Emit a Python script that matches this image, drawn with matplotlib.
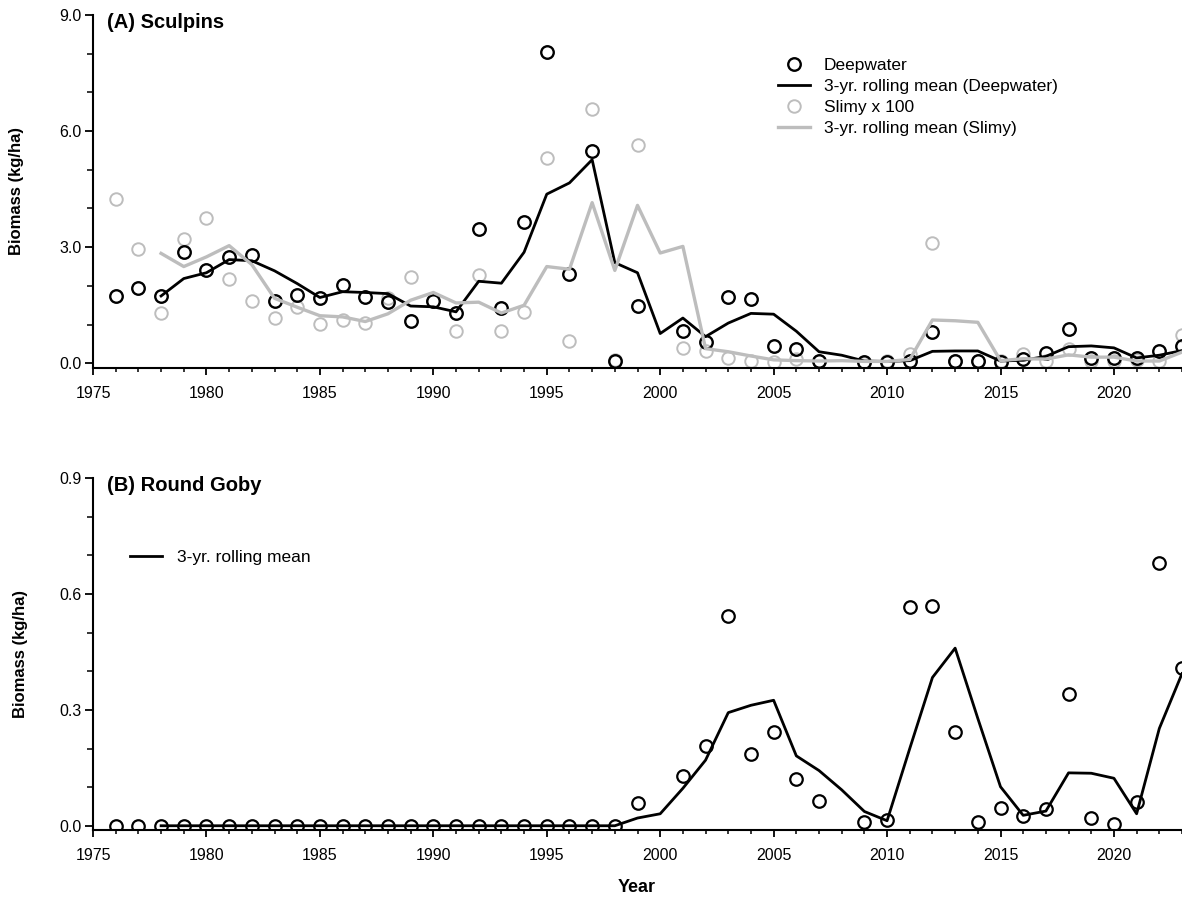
import numpy as np
import matplotlib
matplotlib.use("Agg")
import matplotlib.pyplot as plt
from matplotlib.ticker import MultipleLocator, FormatStrFormatter

plt.rcParams['font.family'] = ['Liberation Sans', 'DejaVu Sans']

nan = np.nan

# survey years (no survey in 2000 and 2008 -> nan)
years = list(range(1976, 2024))
mean_years = list(range(1978, 2024))

deepwater = [1.74, 1.95, 1.74, 2.87, 2.41, 2.75, 2.80, 1.61, 1.76, 1.70,
             2.02, 1.72, 1.59, 1.09, 1.61, 1.29, 3.46, 1.44, 3.64, 8.04,
             2.30, 5.49, 0.07, 1.48, nan, 0.84, 0.56, 1.71, 1.66, 0.45,
             0.37, 0.06, nan, 0.03, 0.04, 0.05, 0.82, 0.07, 0.07, 0.03,
             0.10, 0.26, 0.90, 0.15, 0.13, 0.15, 0.33, 0.45]
deepwater_mean = [1.74, 2.19, 2.34, 2.68, 2.65, 2.39, 2.06, 1.70, 1.85, 1.83,
                  1.80, 1.48, 1.46, 1.33, 2.12, 2.07, 2.87, 4.37, 4.66, 5.26,
                  2.60, 2.34, 0.77, 1.17, 0.69, 1.04, 1.29, 1.27, 0.83, 0.30,
                  0.21, 0.06, 0.05, 0.07, 0.31, 0.32, 0.32, 0.06, 0.08, 0.18,
                  0.43, 0.45, 0.40, 0.14, 0.21, 0.33]

slimy = [4.25, 2.95, 1.29, 3.21, 3.75, 2.18, 1.61, 1.18, 1.45, 1.01,
         1.12, 1.03, 1.70, 2.22, 1.62, 0.83, 2.28, 0.83, 1.33, 5.31,
         0.58, 6.56, 0.08, 5.64, nan, 0.40, 0.33, 0.13, 0.05, 0.03,
         0.10, 0.05, nan, 0.02, 0.05, 0.24, 3.10, 0.05, 0.05, 0.05,
         0.24, 0.05, 0.38, 0.05, 0.05, 0.08, 0.05, 0.73]
slimy_mean = [2.84, 2.50, 2.75, 3.04, 2.55, 1.68, 1.45, 1.23, 1.20, 1.08,
              1.28, 1.63, 1.83, 1.56, 1.58, 1.30, 1.50, 2.50, 2.43, 4.15,
              2.40, 4.08, 2.85, 3.02, 0.38, 0.30, 0.19, 0.09, 0.07, 0.06,
              0.07, 0.05, 0.05, 0.10, 1.12, 1.10, 1.06, 0.07, 0.12, 0.11,
              0.22, 0.16, 0.16, 0.06, 0.06, 0.29]

goby = [0.0, 0.0, 0.0, 0.0, 0.0, 0.0, 0.0, 0.0, 0.0, 0.0,
        0.0, 0.0, 0.0, 0.0, 0.0, 0.0, 0.0, 0.0, 0.0, 0.0,
        0.0, 0.0, 0.0, 0.060, nan, 0.130, 0.207, 0.542, 0.186, 0.243,
        0.120, 0.064, nan, 0.010, 0.014, 0.566, 0.568, 0.243, 0.011, 0.046,
        0.024, 0.044, 0.342, 0.020, 0.004, 0.061, 0.680, 0.409]
goby_mean = [0.0, 0.0, 0.0, 0.0, 0.0, 0.0, 0.0, 0.0, 0.0, 0.0,
             0.0, 0.0, 0.0, 0.0, 0.0, 0.0, 0.0, 0.0, 0.0, 0.0,
             0.0, 0.020, 0.031, 0.097, 0.170, 0.293, 0.312, 0.325, 0.181, 0.143,
             0.093, 0.037, 0.013, 0.200, 0.384, 0.460, 0.278, 0.101, 0.027, 0.038,
             0.137, 0.136, 0.123, 0.031, 0.252, 0.394]

grey = '#bdbdbd'

fig = plt.figure(figsize=(11.82, 9.01), dpi=100)
ax1 = fig.add_axes([0.0787, 0.592, 0.9213, 0.3915])
ax2 = fig.add_axes([0.0787, 0.0788, 0.9213, 0.3904])


def style(ax, ymax, ymin, major, minor, fmt, labx):
    ax.set_xlim(1975, 2023)
    ax.set_ylim(ymin, ymax)
    for s in ['top', 'right']:
        ax.spines[s].set_visible(False)
    for s in ['left', 'bottom']:
        ax.spines[s].set_linewidth(1.5)
    ax.xaxis.set_major_locator(MultipleLocator(5))
    ax.xaxis.set_minor_locator(MultipleLocator(1))
    ax.yaxis.set_major_locator(MultipleLocator(major))
    ax.yaxis.set_minor_locator(MultipleLocator(minor))
    ax.yaxis.set_major_formatter(FormatStrFormatter(fmt))
    ax.tick_params(axis='x', which='major', direction='out', length=5, width=1.3,
                   labelsize=11.5, pad=8)
    ax.tick_params(axis='x', which='minor', direction='out', length=3, width=1.1)
    ax.tick_params(axis='y', which='major', direction='out', length=6, width=1.3,
                   labelsize=11.5, pad=2)
    ax.tick_params(axis='y', which='minor', direction='out', length=4, width=1.1)
    ax.set_ylabel('Biomass (kg/ha)', fontsize=12, fontweight='bold')
    ax.yaxis.set_label_coords(labx, 0.5)


# (A) Sculpins
ax1.plot(years, slimy, 'o', ms=9, mfc='none', mec=grey, mew=1.4,
         label='Slimy x 100')
ax1.plot(years, deepwater, 'o', ms=9, mfc='none', mec='black', mew=1.7,
         label='Deepwater')
ax1.plot(mean_years, deepwater_mean, '-', color='black', lw=2.0,
         label='3-yr. rolling mean (Deepwater)')
ax1.plot(mean_years, slimy_mean, '-', color=grey, lw=2.4,
         label='3-yr. rolling mean (Slimy)')
style(ax1, 9.0, -0.11, 3.0, 1.0, '%.1f', -0.063)
ax1.text(0.013, 0.977, '(A) Sculpins', transform=ax1.transAxes,
         fontsize=14.5, fontweight='bold', va='center', ha='left')
h, l = ax1.get_legend_handles_labels()
order = [1, 2, 0, 3]
ax1.legend([h[i] for i in order], [l[i] for i in order], loc='upper left',
           bbox_to_anchor=(0.629, 0.879), frameon=False, borderpad=0,
           borderaxespad=0, handlelength=1.85, handletextpad=0.8,
           labelspacing=0.35, fontsize=12.5)

# (B) Round Goby
ax2.plot(years, goby, 'o', ms=9, mfc='none', mec='black', mew=1.6)
ax2.plot(mean_years, goby_mean, '-', color='black', lw=2.0,
         label='3-yr. rolling mean')
style(ax2, 0.9, -0.011, 0.3, 0.1, '%.1f', -0.060)
ax2.text(0.013, 0.978, '(B) Round Goby', transform=ax2.transAxes,
         fontsize=14.5, fontweight='bold', va='center', ha='left')
ax2.legend(loc='center left', bbox_to_anchor=(0.034, 0.774), frameon=False,
           borderpad=0, borderaxespad=0, handlelength=1.85, handletextpad=0.85,
           fontsize=12.5)

fig.text(637 / 1182, 1 - 888 / 901, 'Year', fontsize=13, fontweight='bold',
         ha='center', va='center')

fig.savefig('out.png', dpi=100)
